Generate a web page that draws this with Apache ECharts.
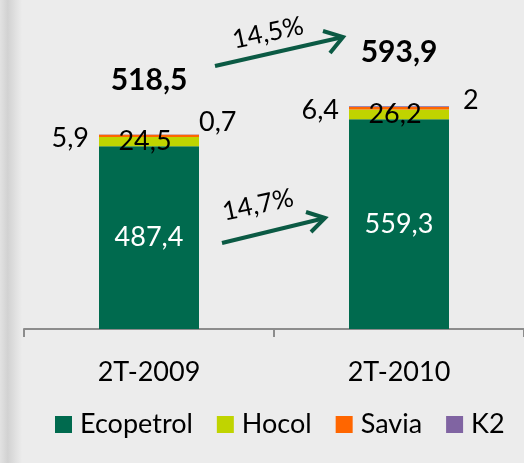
<!DOCTYPE html>
<html>
<head>
<meta charset="utf-8">
<script src="https://cdn.jsdelivr.net/npm/echarts@6/dist/echarts.min.js"></script>
<style>
  html, body { margin: 0; padding: 0; background: #ececec; }
  #chart { width: 524px; height: 463px; }
</style>
</head>
<body>
<div id="chart"></div>
<script>
// datos del grafico
const categories = ['2T-2009', '2T-2010'];
const ecopetrol = [487.4, 559.3];
const hocol = [24.5, 26.2];
const savia = [5.9, 6.4];
const k2 = [0.7, 2];
const totals = [518.5, 593.9];
const growthTotal = '14,5%';
const growthEcopetrol = '14,7%';

const FONT = 'Lato';
const fmt = v => String(v).replace('.', ',');

// desplazamiento de la etiqueta K2 por barra (como en el original)
const k2LabelOffsets = [[-6, -12], [8, -6]];

const chart = echarts.init(document.getElementById('chart'));

const option = {
    backgroundColor: '#ececec',
    animation: false,
    textStyle: { fontFamily: FONT },
    grid: { left: 24, right: -2, top: 29, bottom: 134 },
    legend: {
        bottom: 20,
        left: 50,
        itemWidth: 17,
        itemHeight: 17,
        itemGap: 24,
        icon: 'rect',
        data: ['Ecopetrol', 'Hocol', 'Savia', 'K2'],
        textStyle: { fontFamily: FONT, fontSize: 27, color: '#000', padding: [0, 0, 0, 3] }
    },
    xAxis: {
        type: 'category',
        data: categories,
        axisLine: { lineStyle: { color: '#8c8c8c', width: 2 } },
        axisTick: { show: true, length: 8, lineStyle: { color: '#8c8c8c', width: 2 } },
        axisLabel: { fontFamily: FONT, fontSize: 27, color: '#000', margin: 30 }
    },
    yAxis: { type: 'value', min: 0, max: 800, show: false },
    series: [
        {
            name: 'Ecopetrol', type: 'bar', stack: 'p', barWidth: 100,
            data: ecopetrol,
            itemStyle: { color: '#006a4e' },
            label: { show: true, position: 'inside', color: '#fff', fontSize: 27, formatter: p => fmt(p.value) }
        },
        {
            name: 'Hocol', type: 'bar', stack: 'p', barWidth: 100,
            data: hocol,
            itemStyle: { color: '#c0d400' },
            label: { show: true, position: 'inside', color: '#000', fontSize: 27, offset: [-4, 0], formatter: p => fmt(p.value) }
        },
        {
            name: 'Savia', type: 'bar', stack: 'p', barWidth: 100,
            data: savia,
            itemStyle: { color: '#ff6600' },
            label: { show: true, position: 'left', distance: 10, color: '#000', fontSize: 27, offset: [0, 2], formatter: p => fmt(p.value) }
        },
        {
            name: 'K2', type: 'bar', stack: 'p', barWidth: 100,
            data: k2.map((v, i) => ({ value: v, label: { offset: k2LabelOffsets[i] } })),
            itemStyle: { color: '#8064a2' },
            label: { show: true, position: 'right', distance: 6, color: '#000', fontSize: 27, formatter: p => fmt(p.value) }
        },
        {
            name: 'Total', type: 'scatter',
            data: totals,
            symbolSize: 2,
            itemStyle: { color: 'rgba(0,0,0,0)' },
            label: { show: true, position: 'top', distance: 38, color: '#000', opacity: 1, fontSize: 30, fontWeight: 'bold', formatter: p => fmt(p.value) }
        }
    ],
    graphic: [
        // sombra del borde izquierdo
        {
            type: 'rect', left: 0, top: 0, z: -1,
            shape: { width: 22, height: 463 },
            style: {
                fill: new echarts.graphic.LinearGradient(0, 0, 1, 0, [
                    { offset: 0, color: '#e2e2e2' },
                    { offset: 0.35, color: '#d2d2d2' },
                    { offset: 1, color: '#ececec' }
                ])
            }
        },
        // flecha del total
        {
            type: 'polyline',
            shape: { points: [[215, 66], [343, 37]] },
            style: { stroke: '#0b5a44', lineWidth: 4, fill: null }
        },
        {
            type: 'polyline',
            shape: { points: [[323, 31], [343, 37], [330, 53]] },
            style: { stroke: '#0b5a44', lineWidth: 4, fill: null }
        },
        {
            type: 'text', x: 268, y: 33, rotation: 12 * Math.PI / 180,
            style: { text: growthTotal, font: '26px ' + FONT, fill: '#000', align: 'center', verticalAlign: 'middle' }
        },
        // flecha de Ecopetrol
        {
            type: 'polyline',
            shape: { points: [[222, 243], [325, 218]] },
            style: { stroke: '#0b5a44', lineWidth: 4, fill: null }
        },
        {
            type: 'polyline',
            shape: { points: [[306, 212], [325, 218], [311, 232]] },
            style: { stroke: '#0b5a44', lineWidth: 4, fill: null }
        },
        {
            type: 'text', x: 258, y: 205, rotation: 12 * Math.PI / 180,
            style: { text: growthEcopetrol, font: '26px ' + FONT, fill: '#000', align: 'center', verticalAlign: 'middle' }
        }
    ]
};

chart.setOption(option);
</script>
</body>
</html>
